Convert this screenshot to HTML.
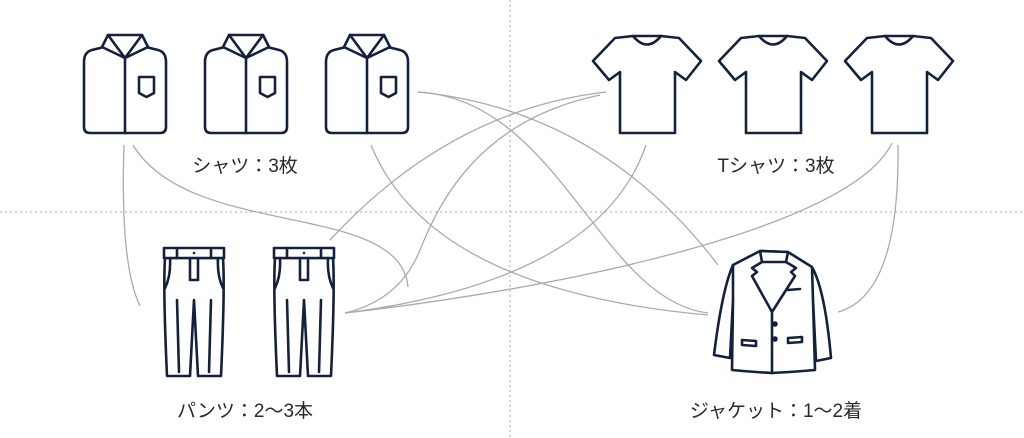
<!DOCTYPE html>
<html><head><meta charset="utf-8"><style>
html,body{margin:0;padding:0;background:#fff;}
svg{display:block;}
text{font-family:"Liberation Sans","Noto Sans CJK JP",sans-serif;fill:#2a2a2a;font-size:19px;}
.ic{fill:#fff;stroke:#13213d;stroke-width:2.6;stroke-linejoin:round;stroke-linecap:round;}
.ln{fill:none;stroke:#aaa;stroke-width:1.3;}
</style></head><body>
<svg width="1024" height="438" viewBox="0 0 1024 438" xmlns="http://www.w3.org/2000/svg">
<defs>
<g id="shirt" class="ic">
<path d="M20 14 L8 17 Q0 19 0 29 L0 94 Q0 100 6 100 L76 100 Q82 100 82 94 L82 29 Q82 19 74 17 L62 14"/>
<path d="M24 2 L58 2 L64 14 L41 25 L18 14 Z"/>
<path d="M24 2 L41 25 L58 2" fill="none"/>
<path d="M41 25 L41 100" fill="none"/>
<path d="M55 44 L70 44 L70 60 L62.5 64 L55 60 Z"/>
</g>
<g id="tee" class="ic">
<path d="M40 1 L22 3 L0 26 L16 45 L27 37 L27 98 L82 98 L82 37 L93 45 L108 26 L86 3 L68 1 Z"/>
<path d="M40 1 Q54 18 68 1" fill="none"/>
</g>
<g id="pants" class="ic">
<path d="M2 10 Q0 40 4 128 L27 128 L31 52 L35 128 L58 128 Q62 40 60 10 Z"/>
<rect x="1" y="0" width="60" height="10"/>
<path d="M14 0 L14 10 M48 0 L48 10 M27 10 L27 32 L35 32 L35 10 M7 10 Q8 28 2 40 M55 10 Q54 28 60 40 M14 52 L16 124 M48 52 L46 124" fill="none"/>
<circle cx="31" cy="5" r="1.3" fill="#13213d" stroke="none"/>
</g>
</defs>
<path d="M0 212 H1024" stroke="#aaa" stroke-width="1" stroke-dasharray="2,3"/>
<path d="M510 0 V438" stroke="#aaa" stroke-width="1" stroke-dasharray="2,3"/>
<g class="ln">
<path d="M124 145 Q120 265 140 306"/>
<path d="M133 145 C190 240 400 200 408 287"/>
<path d="M418 92 Q600 110 718 265"/>
<path d="M418 92 C560 100 600 300 708 313"/>
<path d="M606 92 Q450 110 330 240"/>
<path d="M600 95 C480 120 440 200 420 250 Q400 300 345 313"/>
<path d="M371 145 Q430 290 708 315"/>
<path d="M646 145 Q600 280 345 313"/>
<path d="M345 313 C550 290 850 230 892 143"/>
<path d="M898 145 Q900 295 838 312"/>
</g>
<use href="#shirt" x="84" y="33"/>
<use href="#shirt" x="205" y="33"/>
<use href="#shirt" x="326" y="33"/>
<use href="#tee" x="593" y="35"/>
<use href="#tee" x="719" y="35"/>
<use href="#tee" x="845" y="35"/>
<use href="#pants" x="163" y="248"/>
<use href="#pants" x="273" y="248"/>
<g class="ic">
<path d="M760 251 L733 265 Q722 290 714 355 L730 358 L733 300 L732 370 Q752 372 772 373 Q794 372 815 370 L813 300 L816 361 L831 358 Q825 290 812 267 L788 252 Z"/>
<path d="M760 251 L788 252 L786 262 L762 262 Z"/>
<path d="M762 262 L752 268 L757 272 L752 276 L772 312 M786 262 L796 268 L791 272 L795 276 L772 312 L772 373" fill="none"/>
<path d="M742 340 L756 341 L756 346 L742 345 Z M788 338 L802 337 L802 342 L788 343 Z M788 290 L800 289" fill="none"/>
<path d="M733 300 L733 265 M813 300 L812 267" fill="none"/>
<circle cx="775" cy="324" r="1.5" fill="#13213d"/>
<circle cx="775" cy="339" r="1.5" fill="#13213d"/>
</g>
<text x="245" y="172" text-anchor="middle">シャツ：3枚</text>
<text x="776" y="172" text-anchor="middle">Tシャツ：3枚</text>
<text x="245" y="417" text-anchor="middle">パンツ：2〜3本</text>
<text x="776" y="417" text-anchor="middle">ジャケット：1〜2着</text>
</svg>
</body></html>
